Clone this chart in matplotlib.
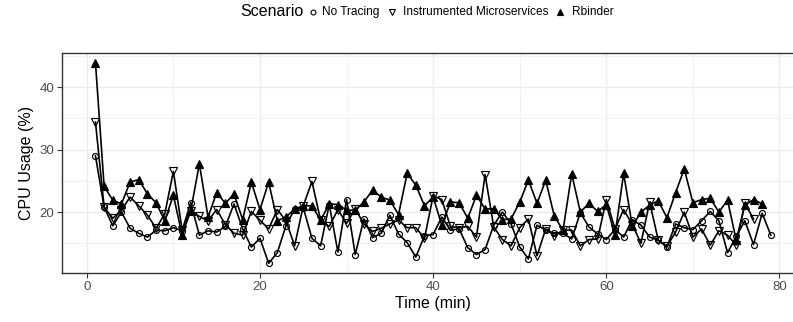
import matplotlib
matplotlib.use("Agg")
import matplotlib.pyplot as plt
from matplotlib.lines import Line2D
from matplotlib.ticker import MultipleLocator

plt.rcParams['font.family'] = ['Liberation Sans', 'DejaVu Sans']

scenarios = ["No Tracing", "Instrumented Microservices", "Rbinder"]

time_no_tracing = list(range(1, 80))
no_tracing = [29.0, 20.8, 17.8, 20.0, 17.4, 16.6, 16.0, 17.1, 17.0, 17.5,
              17.0, 21.5, 16.3, 17.0, 16.8, 17.7, 21.3, 17.3, 14.4, 15.8,
              11.8, 13.5, 17.8, 20.5, 20.7, 15.8, 14.6, 21.2, 13.6, 22.0,
              13.2, 18.9, 15.9, 16.6, 19.5, 16.5, 15.1, 12.8, 16.2, 16.4,
              19.2, 17.1, 17.3, 14.3, 13.2, 14.0, 17.9, 20.0, 18.1, 14.4,
              12.5, 17.9, 17.1, 16.6, 16.6, 15.7, 19.9, 17.6, 16.5, 15.6,
              17.2, 16.0, 18.8, 17.9, 16.0, 15.5, 14.4, 18.1, 17.5, 17.2,
              18.6, 20.1, 18.6, 13.5, 16.1, 18.6, 14.8, 19.8, 16.3]

time_instrumented = list(range(1, 78))
instrumented = [34.4, 20.8, 19.0, 20.3, 22.4, 21.0, 19.5, 17.4, 19.7, 26.5,
                17.2, 20.2, 19.3, 18.6, 20.4, 18.0, 16.6, 16.3, 20.1, 18.7,
                17.3, 20.4, 18.6, 14.6, 21.0, 24.9, 18.7, 17.7, 20.4, 18.2,
                20.5, 18.1, 16.9, 17.4, 18.1, 18.7, 17.5, 17.5, 15.8, 22.6,
                22.0, 17.7, 17.5, 17.7, 16.0, 26.0, 17.6, 15.6, 14.6, 17.5,
                18.9, 13.0, 17.3, 16.2, 17.1, 17.1, 14.6, 15.6, 15.7, 22.0,
                17.3, 20.4, 18.0, 15.0, 21.6, 15.5, 14.5, 16.8, 20.0, 16.0,
                17.3, 14.7, 17.0, 16.3, 14.7, 21.4, 18.9]

time_rbinder = list(range(1, 79))
rbinder = [43.9, 24.1, 21.9, 21.3, 24.8, 25.2, 22.9, 21.5, 18.6, 22.7,
           16.3, 20.2, 27.7, 19.2, 23.1, 21.4, 22.9, 18.8, 24.8, 20.4,
           24.8, 18.6, 19.2, 20.5, 21.0, 21.0, 18.7, 21.3, 21.2, 20.3,
           20.3, 21.6, 23.5, 22.4, 21.9, 19.6, 26.2, 24.3, 21.0, 22.4,
           17.9, 21.6, 21.5, 19.0, 22.7, 20.5, 20.5, 18.8, 18.9, 21.6,
           25.1, 21.4, 25.1, 19.3, 17.1, 26.1, 20.0, 21.4, 20.1, 21.2,
           16.3, 26.2, 17.7, 20.0, 21.1, 21.8, 19.1, 23.1, 26.9, 21.5,
           22.0, 22.2, 20.0, 21.9, 15.5, 21.1, 22.0, 21.3]

x_ticks = [0, 20, 40, 60, 80]
y_ticks = [20, 30, 40]

W, H = 793, 322
fig = plt.figure(figsize=(W / 100, H / 100), dpi=100)
# panel: left 61.7px, right beyond image (clipped), top 52.7px, bottom 273.3px
left, right, top, bottom = 61.7, 804.6, 52.7, 273.3
ax = fig.add_axes([left / W, 1 - bottom / H, (right - left) / W, (bottom - top) / H])

styles = [
    dict(marker='o', markersize=4.3, fillstyle='none'),
    dict(marker='v', markersize=5.6, fillstyle='none'),
    dict(marker='^', markersize=5.6),
]
series = [(time_no_tracing, no_tracing), (time_instrumented, instrumented),
          (time_rbinder, rbinder)]

for t, v in series:
    ax.plot(t, v, color='black', lw=1.2, zorder=3)
for (t, v), mk in zip(series, styles):
    ax.plot(t, v, linestyle='none', color='black', markeredgewidth=0.85, zorder=4, **mk)

ax.set_xlim(-2.9, 82.9)
ax.set_ylim(10.2, 45.5)
ax.set_xticks(x_ticks)
ax.set_yticks(y_ticks)
ax.xaxis.set_minor_locator(MultipleLocator(10))
ax.yaxis.set_minor_locator(MultipleLocator(5))
ax.grid(which='major', color='#EBEBEB', lw=1.0, zorder=0)
ax.grid(which='minor', color='#EBEBEB', lw=0.5, zorder=0)
ax.set_axisbelow(True)
ax.tick_params(which='minor', length=0)
ax.tick_params(which='major', length=3.5, width=0.8, color='#333333',
               labelcolor='#4D4D4D', labelsize=9.5, pad=2)
for s in ax.spines.values():
    s.set_color('#333333')
    s.set_linewidth(1.0)

ax.set_xlabel("Time (min)", fontsize=11.5, labelpad=2)
ax.set_ylabel("CPU Usage (%)", fontsize=11.5, labelpad=4)

# legend at top, title on the left, keys placed in a row
ly = 1 - 12 / H
fig.text(240 / W, ly, "Scenario", fontsize=11.5, ha='left', va='center')
key_x = [313, 392, 560]
text_x = [322, 403, 572]
key_sizes = [3.5, 5.0, 5.0]
for name, mk, kx, tx, ms in zip(scenarios, styles, key_x, text_x, key_sizes):
    kw = dict(mk)
    kw['markersize'] = ms
    fig.add_artist(Line2D([kx / W], [ly], transform=fig.transFigure, linestyle='none',
                          color='black', markeredgewidth=0.8, **kw))
    fig.text(tx / W, ly, name, fontsize=8.6, ha='left', va='center')

fig.savefig("out.png", dpi=100)
